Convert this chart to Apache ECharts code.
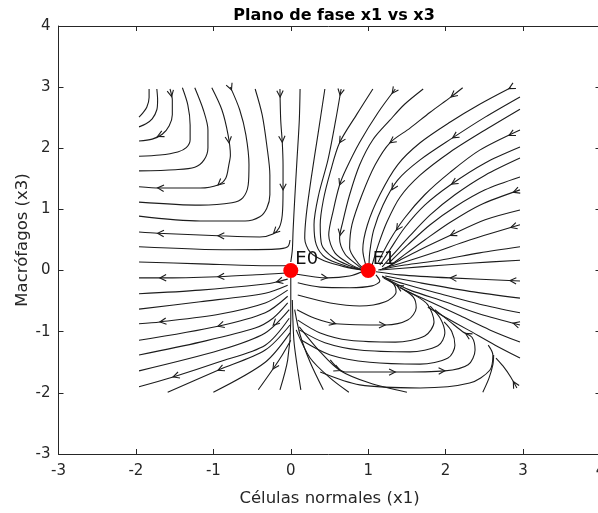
<!DOCTYPE html>
<html>
<head>
<meta charset="utf-8">
<script src="https://cdn.jsdelivr.net/npm/echarts@6/dist/echarts.min.js"></script>
<style>
  html, body { margin: 0; padding: 0; background: #ffffff; }
  #chart { width: 598px; height: 513px; }
</style>
</head>
<body>
<div id="chart"></div>
<script>
// Phase plane x1 vs x3: streamlines traced as (x1, x3) points, listed in flow order.

// Upper-left family: lines fall from the top and bend off to the left.
const flowUpperLeft = [
  [[-1.83,2.97],[-1.83,2.83],[-1.86,2.67],[-1.91,2.58],[-1.96,2.51]],
  [[-1.73,2.97],[-1.72,2.79],[-1.73,2.63],[-1.79,2.48],[-1.87,2.40],[-1.96,2.35]],
  [[-1.56,2.97],[-1.53,2.79],[-1.53,2.55],[-1.57,2.37],[-1.66,2.23],[-1.79,2.15],[-1.96,2.12]],
  [[-1.40,2.99],[-1.33,2.71],[-1.30,2.38],[-1.30,2.14],[-1.35,2.01],[-1.46,1.94],[-1.69,1.89],[-1.96,1.87]],
  [[-1.24,2.99],[-1.13,2.63],[-1.07,2.30],[-1.07,2.01],[-1.12,1.81],[-1.24,1.69],[-1.49,1.65],[-1.96,1.63]],
  [[-1.02,2.99],[-0.89,2.63],[-0.81,2.22],[-0.78,1.89],[-0.80,1.73],[-0.84,1.51],[-0.94,1.40],[-1.17,1.35],[-1.69,1.35],[-1.96,1.37]],
  [[-0.78,3.00],[-0.66,2.63],[-0.58,2.22],[-0.54,1.73],[-0.55,1.40],[-0.62,1.19],[-0.76,1.11],[-1.17,1.07],[-1.96,1.12]],
  [[-0.46,2.97],[-0.37,2.55],[-0.31,2.05],[-0.27,1.56],[-0.27,1.24],[-0.31,1.02],[-0.40,0.88],[-0.59,0.81],[-1.17,0.81],[-1.96,0.89]],
  [[-0.14,2.97],[-0.13,2.46],[-0.11,2.10],[-0.10,1.73],[-0.10,1.32],[-0.11,0.91],[-0.15,0.70],[-0.23,0.60],[-0.40,0.55],[-0.94,0.57],[-1.72,0.61],[-1.96,0.63]],
  [[0.12,2.97],[0.11,2.46],[0.08,1.81],[0.05,1.15],[0.03,0.66],[0.02,0.34],[0.00,0.14]],
  [[-0.01,0.50],[-0.04,0.39],[-0.20,0.35],[-0.78,0.34],[-1.96,0.39]]
];

// Lower-left fan: lines leaving E0 towards the left and the bottom.
const flowLowerLeft = [
  [[-0.02,0.08],[-0.33,0.08],[-1.17,0.11],[-1.96,0.14]],
  [[-0.05,-0.04],[-0.33,-0.06],[-0.94,-0.10],[-1.69,-0.12],[-1.96,-0.12]],
  [[-0.04,-0.14],[-0.20,-0.19],[-0.33,-0.22],[-1.17,-0.32],[-1.96,-0.38]],
  [[-0.04,-0.24],[-0.33,-0.37],[-1.17,-0.51],[-1.96,-0.63]],
  [[-0.04,-0.32],[-0.33,-0.53],[-0.91,-0.71],[-1.69,-0.84],[-1.96,-0.87]],
  [[-0.04,-0.42],[-0.33,-0.69],[-0.94,-0.91],[-1.96,-1.14]],
  [[-0.04,-0.53],[-0.23,-0.78],[-0.46,-0.94],[-1.17,-1.17],[-1.96,-1.38]],
  [[-0.02,-0.64],[-0.33,-1.02],[-0.91,-1.30],[-1.96,-1.64]],
  [[-0.02,-0.78],[-0.33,-1.22],[-0.94,-1.50],[-1.52,-1.74],[-1.96,-1.90]],
  [[-0.01,-0.89],[-0.33,-1.30],[-0.94,-1.63],[-1.59,-1.99]],
  [[-0.01,-1.02],[-0.33,-1.50],[-1.00,-1.99]],
  [[0.00,-1.14],[-0.11,-1.38],[-0.23,-1.61],[-0.42,-1.95]],
  [[0.00,-0.12],[0.00,-0.81],[-0.04,-1.46],[-0.14,-1.95]],
  [[0.02,-0.48],[0.04,-1.14],[0.08,-1.54],[0.13,-1.95]],
  [[0.05,-0.64],[0.12,-1.05],[0.25,-1.50],[0.42,-1.95]],
  [[0.07,-0.97],[0.25,-1.43],[0.51,-1.76],[0.75,-1.99]],
  [[0.11,-0.92],[0.38,-1.33],[0.63,-1.63],[1.02,-1.84],[1.50,-1.99]]
];

// Lower loops: out of E0 to the right, round and back up into E1.
const flowLowerLoops = [
  [[0.08,-0.06],[0.47,-0.12],[0.76,-0.09],[0.92,-0.02]],
  [[0.09,-0.20],[0.38,-0.27],[0.76,-0.28],[1.05,-0.25],[1.15,-0.17],[1.10,-0.07]],
  [[0.09,-0.40],[0.51,-0.53],[0.89,-0.58],[1.22,-0.51],[1.36,-0.35],[1.33,-0.22],[1.18,-0.09]],
  [[0.08,-0.64],[0.31,-0.78],[0.58,-0.87],[1.22,-0.89],[1.51,-0.81],[1.62,-0.61],[1.58,-0.43],[1.38,-0.25],[1.20,-0.12]],
  [[0.09,-0.81],[0.38,-1.02],[0.76,-1.14],[1.35,-1.17],[1.73,-1.07],[1.85,-0.84],[1.77,-0.56],[1.60,-0.40],[1.41,-0.28]],
  [[0.11,-0.97],[0.44,-1.18],[0.89,-1.30],[1.54,-1.33],[1.90,-1.23],[1.99,-1.02],[1.93,-0.78],[1.80,-0.58]],
  [[0.14,-1.14],[0.51,-1.38],[1.02,-1.50],[1.67,-1.53],[2.03,-1.43],[2.12,-1.22],[2.08,-1.00],[1.98,-0.84]],
  [[0.51,-1.46],[0.70,-1.66],[1.35,-1.66],[1.99,-1.64],[2.29,-1.54],[2.38,-1.30],[2.34,-1.09],[2.22,-1.00],[2.06,-0.84],[1.86,-0.64]],
  [[0.38,-1.66],[0.89,-1.87],[1.67,-1.92],[2.31,-1.84],[2.57,-1.63],[2.61,-1.38],[2.55,-1.22]],
  [[2.48,-1.99],[2.56,-1.76],[2.61,-1.54],[2.62,-1.38]],
  [[2.92,-1.92],[2.84,-1.74],[2.74,-1.56],[2.65,-1.43]]
];

// Lower-right lines coming in from the right edge towards E1.
const flowLowerRight = [
  [[2.96,-0.17],[2.06,-0.12],[1.41,-0.07],[1.10,-0.02]],
  [[2.96,-0.45],[2.31,-0.34],[1.67,-0.20],[1.22,-0.09]],
  [[2.96,-0.69],[2.44,-0.55],[1.93,-0.38],[1.47,-0.22],[1.18,-0.10]],
  [[2.96,-0.89],[2.44,-0.71],[1.99,-0.51],[1.54,-0.32],[1.26,-0.15]],
  [[2.96,-1.17],[2.57,-0.97],[2.19,-0.74],[1.80,-0.51],[1.47,-0.32]],
  [[2.96,-1.43],[2.64,-1.22],[2.29,-0.97],[1.99,-0.76],[1.77,-0.60]]
];

// Upper family: lines from the top and right edges converging on E1.
const flowUpperRight = [
  [[0.44,2.97],[0.35,2.22],[0.26,1.48],[0.20,0.91],[0.18,0.53],[0.25,0.30],[0.43,0.16],[0.70,0.06],[0.92,0.01]],
  [[0.65,2.97],[0.58,2.46],[0.48,1.81],[0.36,1.24],[0.30,0.75],[0.33,0.42],[0.45,0.21],[0.70,0.08],[0.92,0.01]],
  [[1.06,2.97],[0.85,2.55],[0.63,2.09],[0.51,1.61],[0.42,1.15],[0.38,0.75],[0.40,0.42],[0.55,0.21],[0.76,0.08],[0.93,0.01]],
  [[1.35,2.97],[1.13,2.59],[0.89,2.10],[0.71,1.65],[0.63,1.40],[0.55,0.99],[0.49,0.58],[0.57,0.29],[0.76,0.11],[0.93,0.01]],
  [[1.71,2.97],[1.47,2.72],[1.28,2.46],[1.06,2.14],[0.89,1.73],[0.76,1.24],[0.67,0.79],[0.63,0.53],[0.70,0.27],[0.84,0.11],[0.94,0.01]],
  [[2.22,2.99],[2.07,2.84],[1.80,2.59],[1.54,2.33],[1.28,2.09],[1.09,1.73],[0.92,1.24],[0.79,0.75],[0.76,0.37],[0.87,0.12],[0.96,0.01]],
  [[2.84,2.99],[2.44,2.72],[2.06,2.43],[1.67,2.09],[1.38,1.73],[1.15,1.24],[0.99,0.75],[0.93,0.34],[0.97,0.08]],
  [[2.96,2.84],[2.51,2.51],[2.09,2.17],[1.67,1.81],[1.38,1.48],[1.19,1.07],[1.07,0.66],[1.02,0.30],[1.01,0.08]],
  [[2.96,2.64],[2.51,2.30],[2.06,1.94],[1.67,1.56],[1.41,1.20],[1.24,0.79],[1.13,0.42],[1.05,0.09]],
  [[2.96,2.30],[2.44,1.97],[2.06,1.61],[1.73,1.24],[1.47,0.86],[1.28,0.50],[1.13,0.14]],
  [[2.96,2.02],[2.51,1.76],[2.06,1.40],[1.73,1.07],[1.47,0.70],[1.28,0.34],[1.15,0.09]],
  [[2.96,1.84],[2.51,1.56],[2.12,1.24],[1.80,0.91],[1.54,0.57],[1.32,0.26],[1.18,0.06]],
  [[2.96,1.53],[2.51,1.32],[2.12,1.04],[1.80,0.75],[1.51,0.42],[1.28,0.14]],
  [[2.96,1.32],[2.44,1.07],[2.06,0.79],[1.73,0.50],[1.47,0.26],[1.26,0.06]],
  [[2.96,0.99],[2.51,0.83],[2.07,0.58],[1.67,0.34],[1.41,0.17],[1.22,0.04]],
  [[2.96,0.75],[2.31,0.50],[1.86,0.30],[1.47,0.14],[1.18,0.03]],
  [[2.96,0.39],[2.44,0.29],[1.93,0.17],[1.47,0.09],[1.13,0.01]],
  [[2.96,0.17],[2.31,0.12],[1.67,0.06],[1.15,0.01]]
];

// Where the direction arrows sit (each one is oriented along its streamline).
const arrowSpots = [
  [-1.56,2.84],[-1.72,2.19],[-0.80,2.09],[-0.94,1.40],[-1.72,1.35],[-0.78,2.95],
  [-0.14,2.84],[-0.11,2.10],[-0.10,1.32],[-0.20,0.58],[-0.94,0.57],[-1.72,0.61],
  [-1.69,-0.12],[-0.94,-0.10],[-0.18,-0.20],[-1.69,-0.84],[-0.94,-0.91],[-0.23,-0.89],
  [-1.52,-1.74],[-0.94,-1.63],[-0.23,-1.61],
  [0.47,-0.12],[0.58,-0.86],[1.22,-0.89],[0.63,-1.66],[1.35,-1.66],[1.99,-1.64],
  [1.37,-0.25],[2.26,-1.02],[2.87,-1.82],[2.83,-0.19],[2.06,-0.12],[2.87,-0.87],
  [0.63,2.87],[0.63,2.09],[0.63,1.40],[0.66,0.57],[1.31,2.90],[1.28,2.09],[1.31,1.32],
  [1.31,0.71],[2.07,2.84],[2.09,2.17],[2.06,1.45],[2.07,0.55],[2.82,2.97],[2.81,2.23],
  [2.87,1.29],[2.84,0.71]
];

// Equilibrium points.
const equilibria = [
  { name: 'E0', value: [0, 0] },
  { name: 'E1', value: [1, 0] }
];

const axisTicks = { min: -3, max: 4, interval: 1 };

const allStreamlines = [].concat(flowUpperLeft, flowLowerLeft, flowLowerLoops, flowLowerRight, flowUpperRight);

const ink = '#262626';
const lineInk = '#1c1c1c';
const fontFamily = 'DejaVu Sans';

// Find the closest point on any streamline (in pixels) and the flow direction there.
function snapToFlow(api, p) {
  let best = null;
  for (const line of allStreamlines) {
    let prev = api.coord(line[0]);
    for (let i = 1; i < line.length; i++) {
      const cur = api.coord(line[i]);
      const dx = cur[0] - prev[0], dy = cur[1] - prev[1];
      const len2 = dx * dx + dy * dy || 1;
      let t = ((p[0] - prev[0]) * dx + (p[1] - prev[1]) * dy) / len2;
      t = Math.max(0, Math.min(1, t));
      const qx = prev[0] + t * dx, qy = prev[1] + t * dy;
      const d2 = (p[0] - qx) * (p[0] - qx) + (p[1] - qy) * (p[1] - qy);
      if (!best || d2 < best.d2) best = { d2, qx, qy, dx, dy };
      prev = cur;
    }
  }
  return best;
}

function renderArrow(params, api) {
  const p = api.coord([api.value(0), api.value(1)]);
  const s = snapToFlow(api, p);
  const len = Math.hypot(s.dx, s.dy) || 1;
  const ux = s.dx / len, uy = s.dy / len;
  const arm = 7, ang = 27 * Math.PI / 180;
  const c = Math.cos(ang), sn = Math.sin(ang);
  const b1 = [s.qx - arm * (ux * c - uy * sn), s.qy - arm * (uy * c + ux * sn)];
  const b2 = [s.qx - arm * (ux * c + uy * sn), s.qy - arm * (uy * c - ux * sn)];
  return {
    type: 'polyline',
    shape: { points: [b1, [s.qx, s.qy], b2] },
    style: { stroke: lineInk, lineWidth: 1.1, fill: null }
  };
}

const baseAxis = {
  type: 'value',
  min: axisTicks.min,
  max: axisTicks.max,
  interval: axisTicks.interval,
  splitLine: { show: false },
  axisLine: { show: true, onZero: false, lineStyle: { color: ink, width: 1 } },
  axisTick: { show: true, inside: true, length: 5, lineStyle: { color: ink, width: 1 } }
};

const chart = echarts.init(document.getElementById('chart'), null, { renderer: 'canvas' });

chart.setOption({
  animation: false,
  backgroundColor: '#ffffff',
  title: {
    text: 'Plano de fase x1 vs x3',
    left: 329,
    textAlign: 'center',
    top: 3,
    textStyle: { fontFamily, fontSize: 16, fontWeight: 'bold', color: '#000000' }
  },
  grid: {
    left: 58.5, top: 26, width: 542, height: 428,
    containLabel: false,
    outerBoundsMode: 'none'
  },
  xAxis: [
    Object.assign({}, baseAxis, {
      position: 'bottom',
      name: 'Células normales (x1)',
      nameLocation: 'middle',
      nameGap: 36,
      nameTextStyle: { fontFamily, fontSize: 16.5, color: ink },
      axisLabel: { show: true, color: ink, fontFamily, fontSize: 15, margin: 10,
        showMinLabel: true, showMaxLabel: true, hideOverlap: false, formatter: v => String(v) }
    }),
    Object.assign({}, baseAxis, { position: 'top', axisLabel: { show: false } })
  ],
  yAxis: [
    Object.assign({}, baseAxis, {
      position: 'left',
      name: 'Macrófagos (x3)',
      nameLocation: 'middle',
      nameGap: 27,
      nameMoveOverlap: false,
      nameTextStyle: { fontFamily, fontSize: 16.5, color: ink },
      axisLabel: { show: true, color: ink, fontFamily, fontSize: 15, margin: 8,
        showMinLabel: true, showMaxLabel: true, hideOverlap: false, formatter: v => String(v) }
    }),
    Object.assign({}, baseAxis, { position: 'right', axisLabel: { show: false } })
  ],
  series: allStreamlines.map(line => ({
    type: 'line',
    data: line,
    showSymbol: false,
    symbol: 'none',
    smooth: 0.3,
    silent: true,
    z: 2,
    lineStyle: { color: lineInk, width: 1.1 }
  })).concat([
    {
      type: 'custom',
      data: arrowSpots,
      renderItem: renderArrow,
      silent: true,
      z: 3
    },
    {
      type: 'scatter',
      data: equilibria,
      symbol: 'circle',
      symbolSize: 15,
      itemStyle: { color: '#ff0000', opacity: 1 },
      silent: true,
      z: 5,
      label: {
        show: true,
        formatter: '{b}',
        position: [12, -13],
        fontFamily,
        fontSize: 18,
        color: '#111111'
      }
    }
  ])
});
</script>
</body>
</html>
